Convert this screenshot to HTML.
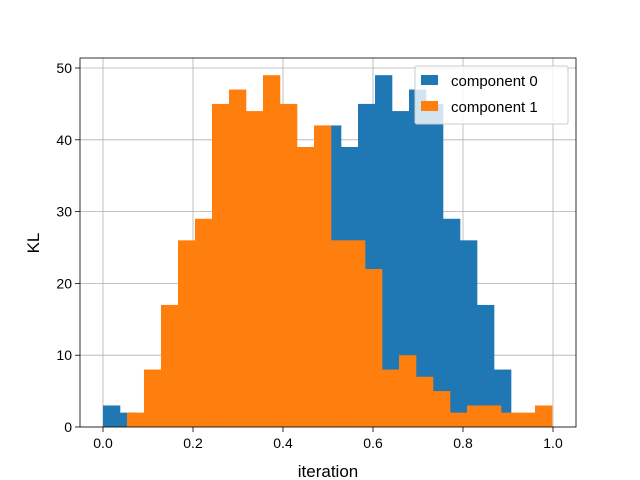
<!DOCTYPE html>
<html><head><meta charset="utf-8"><style>body{margin:0;background:#fff}svg{display:block;font-family:"Liberation Sans","DejaVu Sans",sans-serif}</style></head>
<body>
<svg id="chart" width="640" height="480"></svg>
<script>
const blueCounts=[3,2,1,3,5,8,12,15,20,25,30,32,36,42,39,45,49,44,47,45,29,26,17,8];
const orangeCounts=[2,8,17,26,29,45,47,44,49,45,39,42,26,26,22,8,10,7,5,2,3,3,2,2,3];
const blueStart=0.0, orangeStart=0.0533, binWidth=0.03778;
const xTicks=[0,0.2,0.4,0.6,0.8,1.0];
const xTickLabels=["0.0","0.2","0.4","0.6","0.8","1.0"];
const yTicks=[0,10,20,30,40,50];
const NS="http://www.w3.org/2000/svg";
const svg=document.getElementById('chart');
const L=80,R=576,T=58,B=427;
const sx=v=>103+v*450, sy=v=>427-v*7.18;
function el(t,a,p){const e=document.createElementNS(NS,t);for(const k in a)e.setAttribute(k,a[k]);(p||svg).appendChild(e);return e;}
const grid=el('g',{});
xTicks.forEach(v=>el('line',{x1:sx(v),x2:sx(v),y1:T,y2:B,stroke:'#b0b0b0','stroke-width':0.8},grid));
yTicks.forEach(v=>el('line',{x1:L,x2:R,y1:sy(v),y2:sy(v),stroke:'#b0b0b0','stroke-width':0.8},grid));
function series(counts,start,color,name){
  const g=el('g',{});
  counts.forEach((c,i)=>{const x0=sx(start+i*binWidth),x1=sx(start+(i+1)*binWidth);
    const r=el('rect',{x:x0,y:sy(c),width:x1-x0+0.3,height:sy(0)-sy(c),fill:color},g);
    });
}
series(blueCounts,blueStart,'#1f77b4','series-component-0');
series(orangeCounts,orangeStart,'#ff7f0e','series-component-1');
// grid over bars (matplotlib default draws grid below; keep subtle)
const ax=el('rect',{x:L,y:T,width:R-L,height:B-T,fill:'none',stroke:'#000','stroke-width':0.8});

xTicks.forEach((v,i)=>{el('line',{x1:sx(v),x2:sx(v),y1:B,y2:B+5,stroke:'#000','stroke-width':0.8});
  const t=el('text',{x:sx(v),y:B+21,'text-anchor':'middle','font-size':14});t.textContent=xTickLabels[i];
  });
yTicks.forEach(v=>{el('line',{x1:L-5,x2:L,y1:sy(v),y2:sy(v),stroke:'#000','stroke-width':0.8});
  const t=el('text',{x:L-8,y:sy(v)+5,'text-anchor':'end','font-size':14});t.textContent=v;
  });
</script>
<svg width="0" height="0"></svg>
<div style="position:absolute;left:0;top:0;width:640px;height:480px;pointer-events:none">
<svg width="640" height="480" style="position:absolute;left:0;top:0">
<text x="328" y="477" text-anchor="middle" font-size="17">iteration</text>
<text x="39" y="243" text-anchor="middle" font-size="17" transform="rotate(-90 39 243)">KL</text>
<g>
<rect x="415" y="66" width="153" height="58" rx="2" fill="#fff" fill-opacity="0.8" stroke="#ccc"/>
<rect x="421" y="75" width="17" height="10" fill="#1f77b4"/>
<text x="451" y="86" font-size="15">component 0</text>
<rect x="421" y="101" width="17" height="10" fill="#ff7f0e"/>
<text x="451" y="112" font-size="15">component 1</text>
</g>
</svg></div>
</body></html>
